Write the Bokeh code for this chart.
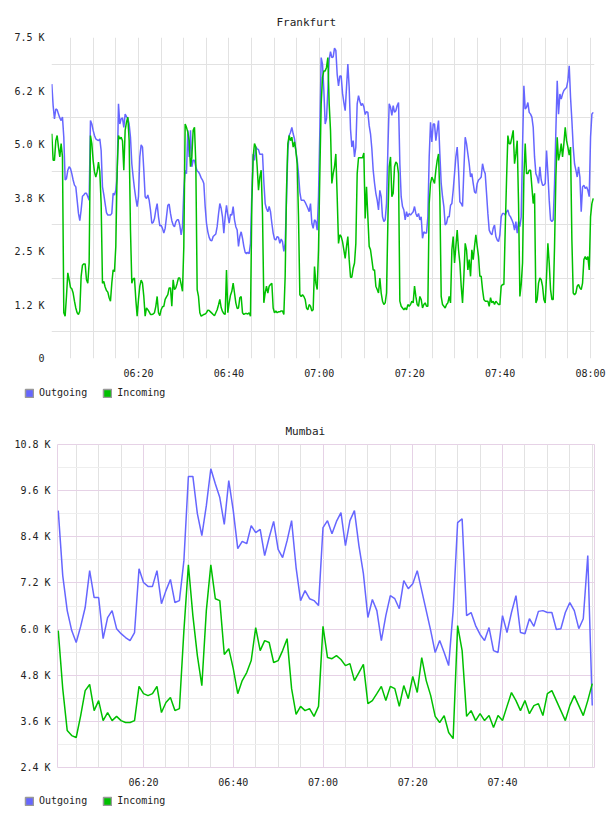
import pandas as pd
from bokeh.plotting import figure
from bokeh.models import FixedTicker, Legend, LegendItem, Range1d, DatetimeTickFormatter
from bokeh.embed import file_html
from bokeh.resources import INLINE

DAY = "2024-01-01 "
series_names = ["Outgoing", "Incoming"]
time_labels = ["06:20", "06:40", "07:00", "07:20", "07:40", "08:00"]

# ---------------- Frankfurt ----------------
fra_title = "Frankfurt"
fra_first, fra_last = "06:00:49", "08:00:36"
fra_view = ("06:00:45", "08:00:53")
fra_outgoing = [
    6410, 5910, 5600, 5830, 5810, 5710, 5620, 5560, 5640, 5170,
    4170, 4200, 4400, 4480, 4440, 4320, 4170, 4050, 4010, 3700,
    3390, 3220, 3470, 3790, 3820, 3860, 3860, 3780, 3700, 5560,
    5480, 5330, 5210, 5130, 5110, 5090, 5130, 4860, 4010, 3830,
    3620, 3410, 3350, 3350, 3350, 3390, 3860, 3820, 3930, 4240,
    5950, 5480, 5600, 5620, 5400, 5710, 5650, 5610, 5480, 5170,
    4550, 4240, 3970, 3740, 3550, 3780, 4710, 4990, 4940, 4400,
    3780, 3740, 3820, 3700, 3470, 3160, 3180, 3270, 3470, 3620,
    3310, 3100, 3110, 3040, 2930, 3040, 3310, 3580, 3610, 3390,
    3220, 3120, 3080, 3190, 3240, 3240, 3110, 2890, 3080, 3930,
    4400,
    4320, 5330, 4710, 5330, 4480, 4630, 4630, 4480, 4380, 4360,
    4300, 4220, 4170, 4090, 3550, 3160, 2960, 2830, 2760, 2750,
    2850, 2880, 2910, 3080, 3370, 3620, 3510, 3310, 2930, 3310,
    3580, 3350, 3160, 3370, 3350, 3550, 3240, 3080, 3000, 2620,
    2850, 2960, 2810, 2620, 2480, 2450, 2480, 2450, 2690, 3860,
    4780, 4630, 4940, 4900, 4880, 4770, 4770, 4780, 4130, 3620,
    3500, 3430, 3550, 3430, 3160, 2930, 2790, 2770, 2850, 2830,
    2690, 2790, 2730, 2500, 2690, 3700, 4860, 5210, 5280, 5400,
    5250, 5130, 4860, 4640, 4320, 3890, 3700, 3700, 3700, 3650,
    3580, 3510, 3430, 3620, 3160, 3040, 3240, 3200, 3000, 3780,
    5330, 7030, 6880, 6260,
    5480, 5600, 6260, 6990, 7170, 7030, 7050, 7250, 7200, 6640,
    6370, 6600, 6600, 6200, 5980, 5790, 6330, 6880, 6330, 5360,
    4940, 5090, 4710, 4940, 5950, 6140, 6010, 5910, 5960, 5880,
    5700, 5770, 5750, 5440, 5250, 4900, 4400, 4100, 3860, 3700,
    3470, 3930, 3780, 3310, 3200, 3240, 3620, 4860, 5950, 5870,
    5680, 5910, 5750, 5790, 5910, 5980, 4550, 3780, 3550, 3470,
    3240, 3430, 3310, 3390, 3350, 3390, 3430, 3550, 3390, 3310,
    3390, 3240, 3310, 2810, 2960, 2930, 2930, 3310, 4710, 5520,
    5060, 5480, 5480, 5090, 5330, 5560, 4780, 4090, 3780, 3550,
    3120, 3160, 3310, 3310, 3580, 3620, 3930, 4320, 4710, 4940,
    4400, 3660, 3620,
    3550, 4400, 5170, 5020, 4780, 4550, 4240, 4320, 4090, 3890,
    3860, 4090, 4170, 4200, 4240, 4550, 4400, 4320, 3860, 3390,
    3000, 2930, 2890, 3040, 3120, 2850, 2770, 2730, 2890, 3310,
    3390, 3390, 3350, 3430, 3470, 3350, 3310, 3240, 3160, 3000,
    3200, 2930, 3200, 3080, 3310, 4940, 6370, 5830, 5870, 5980,
    5750, 5710, 5640, 5400, 4710, 4320, 4240, 4090, 4480, 4170,
    4050, 4050, 4090, 4860, 4320, 3700, 3240, 3200, 3240, 4090,
    5330, 6490, 5710, 6180, 6060, 6180, 6260, 6300, 6330, 6490,
    6840, 6100, 5560, 4940, 4550, 4400, 4240, 4480, 4240, 3430,
    4010, 4050, 3970, 4010, 3930, 3780, 5170, 5710, 5750,
]
fra_incoming = [
    5250, 4630, 4630, 5090, 5210, 4940, 4710, 5020, 4710, 1070,
    990, 1450, 2000, 1840, 1660, 1630, 1530, 1340, 1180, 1070,
    1030, 1110, 1920, 2180, 2210, 2210, 1840, 1760, 2230, 5210,
    5020, 4630, 4360, 4240, 4360, 4590, 4360, 3620, 1760, 1800,
    1670, 1590, 1550, 1420, 1340, 1760, 2070, 2030, 2620, 4400,
    5210, 5130, 5170, 5090, 4400, 5330, 5520, 5640, 5090, 3000,
    1760, 1860, 1880, 1380, 990, 1380, 1690, 1830, 1760, 1450,
    990, 1180, 1140, 1090, 1030, 1030, 1040, 1070, 1220, 1450,
    1070, 1000, 1140, 1210, 1220, 1380, 1440, 1490, 1650, 1650,
    1220, 1840, 1610, 1650, 1760, 1880, 1880, 1730, 1570, 2620,
    5480,
    5400, 5290, 5090, 4480, 4710, 5330, 5400, 4550, 1610, 1450,
    1070, 990, 1010, 1030, 1040, 1070, 1130, 1120, 1090, 1060,
    1030, 1000, 1070, 1140, 1250, 1380, 1190, 1100, 1050, 1030,
    2070, 1070, 1300, 1480, 1570, 1760, 1530, 1300, 1170, 1180,
    1420, 1450, 1070, 1030, 1050, 1050, 1040, 1070, 990, 3620,
    4710, 5020, 4940, 4480, 3930, 4240, 4400, 3390, 1300, 1530,
    1690, 1530, 1690, 1730, 1760, 1180, 1070, 1110, 1070, 1090,
    1090, 1110, 1110, 1030, 1920, 3930, 5020, 5210, 5090, 5170,
    4940, 5060, 4860, 4550, 3310, 1490, 1450, 1490, 1450, 1380,
    1180, 1140, 1260, 1220, 1110, 1140, 2150, 1760, 1610, 2540,
    4320, 5950, 6570, 6720,
    6720, 6800, 7030, 5950, 5330, 4090, 4320, 4480, 4780, 3780,
    2690, 2890, 2850, 2730, 2540, 2340, 2620, 2850, 2310, 1900,
    1900, 2110, 2230, 2690, 4320, 4690, 4690, 4690, 4690, 4800,
    3270, 4010, 3310, 2620, 2540, 2310, 2070, 2070, 1690, 1610,
    1530, 1880, 1530, 1340, 1260, 1300, 1530, 3160, 4480, 4710,
    3780, 3860, 4480, 4590, 4550, 4320, 1340, 1220, 1180, 1140,
    1180, 1140, 1260, 1220, 1260, 1340, 1300, 1690, 1450, 1260,
    1220, 1450, 1380, 1180, 1260, 1300, 1220, 1220, 3620, 4090,
    4240, 4170, 4090, 4400, 4630, 4780, 3780, 1450, 1260, 1220,
    1180, 1260, 1300, 1450, 1300, 2540, 2850, 2230, 2620, 3000,
    2540, 2230, 1690,
    1300, 1920, 2690, 2540, 2070, 2310, 1920, 2540, 2310, 2620,
    2890, 2620, 2380, 1920, 1920, 1610, 1380, 1340, 1340, 1340,
    1220, 1420, 1300, 1340, 1260, 1340, 1300, 1260, 1260, 1690,
    1730, 1730, 3000, 4170, 5210, 5020, 5020, 5170, 5330, 4550,
    4780, 5090, 3620, 1450, 1730, 2230, 4240, 5020, 4320, 4320,
    4400, 4400, 4010, 3620, 3860, 1300, 1380, 1760, 1880, 1840,
    1690, 1380, 1300, 1920, 2690, 2230, 1610, 1380, 1380, 2620,
    4240, 5170, 4630, 4780, 5020, 4710, 5020, 5400, 5090, 4940,
    4750, 4940, 2770, 1530, 1490, 1530, 1690, 1730, 1650, 1610,
    1760, 2310, 2380, 2310, 2380, 2070, 3310, 3620, 3740,
]
fra_y_ticks = [0, 1250, 2500, 3750, 5000, 6250, 7500]
fra_y_labels = ["0", "1.2 K", "2.5 K", "3.8 K", "5.0 K", "6.2 K", "7.5 K"]

# ---------------- Mumbai ----------------
mum_title = "Mumbai"
mum_first, mum_last = "06:01:00", "08:00:00"
mum_view = ("06:00:50", "08:00:30")
mum_outgoing = [
    9080, 7390, 6480, 5960, 5650, 6070, 6560, 7520, 6820, 6820,
    5750, 6300, 6480, 6010, 5880, 5780, 5700, 5910, 7570, 7210,
    7110, 7110, 7520, 6660, 7000, 7290, 6690, 6740, 7780, 9970,
    9970, 9000, 8430, 9210, 10170, 9780, 9420, 8720, 9860, 9080,
    8090, 8280, 8220, 8690, 8510, 8590, 7910, 8380, 8800, 8070,
    7860, 8300, 8820, 7600, 6740, 7000, 6790, 6740, 6610, 8640,
    8820, 8480, 8800, 9030, 8170, 8820, 9080, 8170, 7440, 6300,
    6770, 6480, 5700, 6350, 6870, 6790, 6530, 7260, 7050, 7180,
    7520, 7000, 6480, 5960, 5390, 5700, 5390, 5050, 6480, 8770,
    8870, 6350, 6430, 6090, 5860, 5700, 6040, 5440, 5390, 6350,
    5910, 6430, 6870, 5910, 5880, 6270, 6070, 6460, 6480, 6430,
    6430, 5990, 6010, 6430, 6690, 6480, 6010, 6270, 7910, 4010,
]
mum_incoming = [
    5960, 4450, 3360, 3230, 3180, 3750, 4400, 4560, 3880, 4140,
    3620, 3830, 3620, 3730, 3620, 3570, 3570, 3620, 4510, 4320,
    4270, 4320, 4510, 3830, 4090, 4220, 3880, 3930, 5960, 7670,
    6350, 5310, 4530, 6480, 7670, 6790, 6740, 5340, 5490, 4970,
    4320, 4660, 4870, 5180, 6040, 5440, 5700, 5650, 5130, 5180,
    5440, 5750, 4450, 3780, 3990, 3880, 3930, 3730, 3990, 6070,
    5260, 5230, 5310, 5210, 5050, 5100, 4660, 4870, 5080, 4060,
    4140, 4320, 4510, 4140, 4510, 4450, 3990, 4530, 4190, 4770,
    4350, 5260, 4660, 4270, 3730, 3570, 3750, 3310, 3150, 6090,
    5440, 3730, 3880, 3620, 3800, 3620, 3750, 3440, 3750, 3620,
    3990, 4350, 4140, 3880, 4140, 3800, 4010, 4060, 3750, 4320,
    4400, 4140, 3880, 3620, 4010, 4270, 4010, 3750, 4140, 4580,
]
mum_y_ticks = [2400, 3600, 4800, 6000, 7200, 8400, 9600, 10800]
mum_y_labels = ["2.4 K", "3.6 K", "4.8 K", "6.0 K", "7.2 K", "8.4 K", "9.6 K", "10.8 K"]

# ---------------- styling ----------------
BLUE = "#6666ff"
GREEN = "#00c000"
FONT = "DejaVu Sans Mono"
TEXT = "#222222"
GRID = "#e2e2e2"
PINK = "#e6d2e6"
NAN = float("nan")


def ms(hms):
    return pd.Timestamp(DAY + hms).value / 1e6


def five_min(start, end):
    return [t.value / 1e6 for t in pd.date_range(DAY + start, DAY + end, freq="5min")]


def chart(title, first, last, view, outgoing, incoming, y_ticks, y_labels, x_labels,
          height, left, top, bottom, framed, title_offset, title_standoff):
    times = pd.date_range(DAY + first, DAY + last, periods=len(outgoing))
    p = figure(width=608, height=height, x_axis_type="datetime",
               x_range=Range1d(ms(view[0]), ms(view[1])),
               y_range=Range1d(y_ticks[0], y_ticks[-1]),
               output_backend="svg", toolbar_location=None,
               min_border_left=left, min_border_right=14,
               min_border_top=top, min_border_bottom=bottom)
    p.title.text = title
    p.title.align = "left"
    p.title.offset = title_offset
    p.title.text_font = FONT
    p.title.text_font_size = "11px"
    p.title.text_font_style = "normal"
    p.title.text_color = TEXT
    p.title.standoff = title_standoff
    p.background_fill_color = "white"
    p.border_fill_color = "white"

    mids = [(a + b) / 2 for a, b in zip(y_ticks[:-1], y_ticks[1:])]
    label_ms = [ms(t) for t in x_labels]
    all5 = five_min("06:05", "08:00")
    if framed:
        p.outline_line_color = PINK
        p.outline_line_width = 1
        major_x = [ms(t) for t in ["06:20", "06:40", "07:00", "07:20", "07:40"]]
        minor_x = [t for t in all5 if t not in major_x]
        p.xgrid.ticker = FixedTicker(ticks=major_x, minor_ticks=minor_x)
        p.xgrid.grid_line_color = PINK
        p.xgrid.minor_grid_line_color = GRID
        p.ygrid.ticker = FixedTicker(ticks=y_ticks, minor_ticks=mids)
        p.ygrid.grid_line_color = PINK
        p.ygrid.minor_grid_line_color = "#eeeeee"
    else:
        p.outline_line_color = None
        p.xgrid.ticker = FixedTicker(ticks=all5)
        p.xgrid.grid_line_color = GRID
        p.ygrid.ticker = FixedTicker(ticks=mids)
        p.ygrid.grid_line_color = GRID

    p.xaxis.ticker = FixedTicker(ticks=label_ms)
    fmt = "%H:%M"
    p.xaxis.formatter = DatetimeTickFormatter(
        microseconds=fmt, milliseconds=fmt, seconds=fmt, minsec=fmt,
        minutes=fmt, hourmin=fmt, hours=fmt, days=fmt)
    p.yaxis.ticker = FixedTicker(ticks=y_ticks)
    p.yaxis.major_label_overrides = {t: s for t, s in zip(y_ticks, y_labels)}
    for ax in (p.xaxis[0], p.yaxis[0]):
        ax.axis_line_color = None
        ax.major_tick_line_color = None
        ax.minor_tick_line_color = None
        ax.major_tick_in = 0
        ax.major_tick_out = 0
        ax.minor_tick_in = 0
        ax.minor_tick_out = 0
        ax.major_label_text_font = FONT
        ax.major_label_text_font_size = "10px"
        ax.major_label_text_color = TEXT
    p.yaxis.major_label_standoff = 7
    p.xaxis.major_label_standoff = 9

    p.line(times, outgoing, line_color=BLUE, line_width=1.5)
    p.line(times, incoming, line_color=GREEN, line_width=1.5)
    return p


def legend_strip(height, bottom_gap):
    lf = figure(width=608, height=height, output_backend="svg", toolbar_location=None,
                x_axis_location=None, y_axis_location=None, min_border=0,
                x_range=Range1d(0, 1), y_range=Range1d(0, 1))
    lf.outline_line_color = None
    lf.grid.visible = False
    lf.background_fill_color = "white"
    lf.border_fill_color = "white"
    # swatch renderers for the legend only (nothing drawn in the strip itself)
    sw_out = lf.quad(left=[NAN], right=[NAN], top=[NAN], bottom=[NAN], fill_color=BLUE,
                     line_color="#999999", line_width=1.5)
    sw_in = lf.quad(left=[NAN], right=[NAN], top=[NAN], bottom=[NAN], fill_color=GREEN,
                    line_color="#999999", line_width=1.5)
    legend = Legend(items=[LegendItem(label=series_names[0], renderers=[sw_out]),
                           LegendItem(label=series_names[1], renderers=[sw_in])],
                    location=(24, bottom_gap), orientation="horizontal",
                    glyph_width=10, glyph_height=10, label_height=10,
                    label_standoff=5, spacing=15, padding=0, margin=0,
                    border_line_color=None, background_fill_alpha=0,
                    label_text_font=FONT, label_text_font_size="10px",
                    label_text_color=TEXT)
    lf.add_layout(legend)
    return lf


p1 = chart(fra_title, fra_first, fra_last, fra_view, fra_outgoing, fra_incoming,
           fra_y_ticks, fra_y_labels, time_labels,
           height=382, left=51, top=37, bottom=24, framed=False,
           title_offset=225, title_standoff=18)
l1 = legend_strip(26, 10)
p2 = chart(mum_title, mum_first, mum_last, mum_view, mum_outgoing, mum_incoming,
           mum_y_ticks, mum_y_labels, time_labels[:-1],
           height=382, left=57, top=36, bottom=23, framed=True,
           title_offset=228, title_standoff=14)
l2 = legend_strip(26, 10)

open("out.html", "w").write(file_html([p1, l1, p2, l2], INLINE))
